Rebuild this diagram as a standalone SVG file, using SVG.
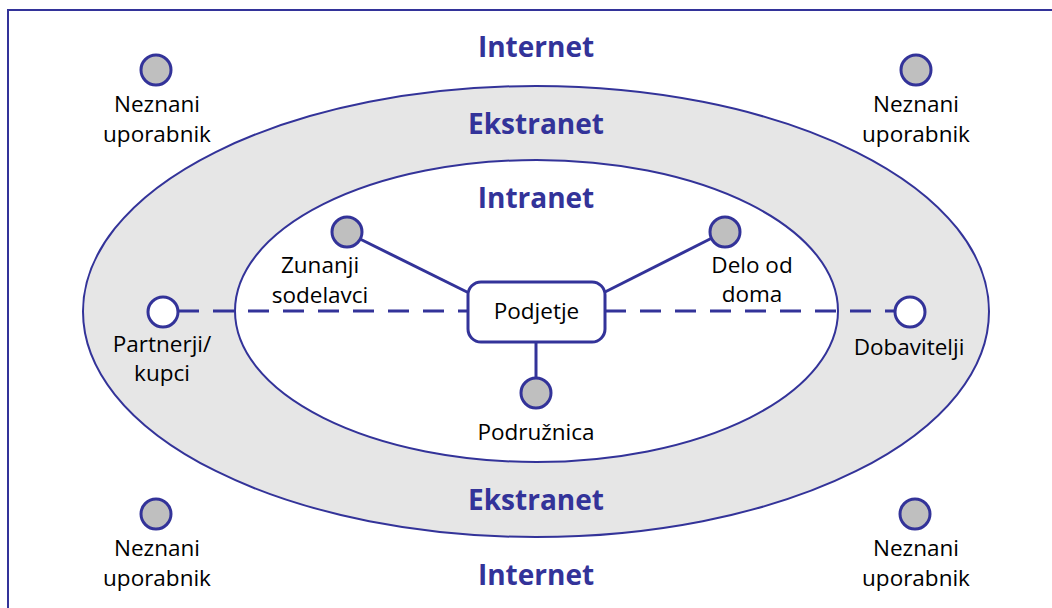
<svg xmlns="http://www.w3.org/2000/svg" width="1052" height="608" viewBox="0 0 1052 608">
<style>
.lbl{font-family:"Open Sans","Liberation Sans",sans-serif;font-size:22.5px;fill:#000;text-anchor:middle}
.zone{font-family:"Open Sans","Liberation Sans",sans-serif;font-size:28px;font-weight:bold;fill:#333399;text-anchor:middle}
.dot{fill:#bfbfbf;stroke:#333399;stroke-width:3}
.wdot{fill:#fff;stroke:#333399;stroke-width:3}
.ln{stroke:#333399;stroke-width:3;fill:none}
.dash{stroke:#333399;stroke-width:3;fill:none;stroke-dasharray:21 14}
</style>
<rect x="0" y="0" width="1052" height="608" fill="#fff"/>
<rect x="8" y="10" width="1060" height="620" fill="none" stroke="#333399" stroke-width="2"/>
<g id="zones">
<ellipse cx="536" cy="311.5" rx="453" ry="225.5" fill="#e6e6e6" stroke="#333399" stroke-width="2"/>
<ellipse cx="536.5" cy="311" rx="301.5" ry="151" fill="#fff" stroke="#333399" stroke-width="2"/>
<text class="zone" x="536" y="57">Internet</text>
<text class="zone" x="536" y="134">Ekstranet</text>
<text class="zone" x="536" y="208">Intranet</text>
<text class="zone" x="536" y="510">Ekstranet</text>
<text class="zone" x="536" y="585">Internet</text>
</g>
<g id="connectors">
<line class="ln" x1="358" y1="238" x2="469" y2="293"/>
<line class="ln" x1="712" y1="238" x2="603" y2="293"/>
<line class="ln" x1="536" y1="342" x2="536" y2="378"/>
<line class="dash" x1="178" y1="311" x2="467" y2="311"/>
<line class="dash" x1="605" y1="311" x2="895" y2="311"/>
</g>
<g id="podjetje">
<rect x="468" y="282" width="137" height="60" rx="13" fill="#fff" stroke="#333399" stroke-width="3"/>
<text class="lbl" x="536.5" y="319">Podjetje</text>
</g>
<g id="neznani-tl">
<circle class="dot" cx="156" cy="70" r="15"/>
<text class="lbl" x="157" y="112">Neznani</text>
<text class="lbl" x="157" y="142">uporabnik</text>
</g>
<g id="neznani-tr">
<circle class="dot" cx="916" cy="70" r="15"/>
<text class="lbl" x="916" y="112">Neznani</text>
<text class="lbl" x="916" y="142">uporabnik</text>
</g>
<g id="neznani-bl">
<circle class="dot" cx="156" cy="514" r="15"/>
<text class="lbl" x="157" y="556">Neznani</text>
<text class="lbl" x="157" y="586">uporabnik</text>
</g>
<g id="neznani-br">
<circle class="dot" cx="915" cy="514" r="15"/>
<text class="lbl" x="916" y="556">Neznani</text>
<text class="lbl" x="916" y="586">uporabnik</text>
</g>
<g id="zunanji">
<circle class="dot" cx="347" cy="232" r="15"/>
<text class="lbl" x="320" y="273">Zunanji</text>
<text class="lbl" x="320" y="303">sodelavci</text>
</g>
<g id="delo">
<circle class="dot" cx="725" cy="232" r="15"/>
<text class="lbl" x="752" y="273">Delo od</text>
<text class="lbl" x="752" y="302">doma</text>
</g>
<g id="podruznica">
<circle class="dot" cx="536" cy="393" r="15"/>
<text class="lbl" x="536" y="440">Podružnica</text>
</g>
<g id="partnerji">
<circle class="wdot" cx="163" cy="312" r="15"/>
<text class="lbl" x="162" y="352">Partnerji/</text>
<text class="lbl" x="162" y="381">kupci</text>
</g>
<g id="dobavitelji">
<circle class="wdot" cx="910" cy="312" r="15"/>
<text class="lbl" x="909" y="355">Dobavitelji</text>
</g>
</svg>
